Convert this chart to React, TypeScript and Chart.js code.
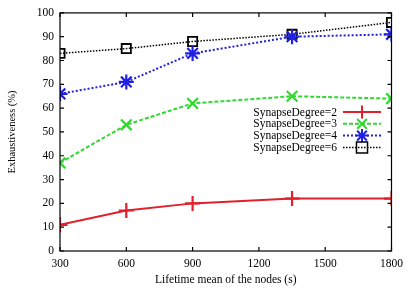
import React, { useEffect, useRef } from "react";
import { Chart, registerables } from "chart.js";

Chart.register(...registerables);

const xValues = [300, 600, 900, 1350, 1800];
const sd2 = [11, 17, 20, 22, 22];
const sd3 = [37, 53, 62, 65, 64];
const sd4 = [66, 71, 83, 90, 91];
const sd6 = [83, 85, 88, 91, 96];
const seriesLabels = ["SynapseDegree=2", "SynapseDegree=3", "SynapseDegree=4", "SynapseDegree=6"];
const xTicks = [300, 600, 900, 1200, 1500, 1800];
const yTicks = [0, 10, 20, 30, 40, 50, 60, 70, 80, 90, 100];

const FONT = "'Liberation Serif', 'DejaVu Serif', serif";

const styles = [
  { color: "#e0202a", dash: [] as number[], point: "cross", width: 2 },
  { color: "#30d830", dash: [4, 2], point: "crossRot", width: 2 },
  { color: "#2020e0", dash: [2, 2], point: "star", width: 2 },
  { color: "#000000", dash: [1.5, 1.5], point: "rect", width: 1.5 },
];

function drawMarker(ctx: CanvasRenderingContext2D, type: string, x: number, y: number, r: number) {
  ctx.beginPath();
  if (type === "cross") {
    ctx.moveTo(x - r, y);
    ctx.lineTo(x + r, y);
    ctx.moveTo(x, y - r);
    ctx.lineTo(x, y + r);
  } else if (type === "crossRot") {
    const d = r * 0.75;
    ctx.moveTo(x - d, y - d);
    ctx.lineTo(x + d, y + d);
    ctx.moveTo(x - d, y + d);
    ctx.lineTo(x + d, y - d);
  } else if (type === "star") {
    const d = r * 0.75;
    ctx.moveTo(x - r, y);
    ctx.lineTo(x + r, y);
    ctx.moveTo(x, y - r);
    ctx.lineTo(x, y + r);
    ctx.moveTo(x - d, y - d);
    ctx.lineTo(x + d, y + d);
    ctx.moveTo(x - d, y + d);
    ctx.lineTo(x + d, y - d);
  } else {
    const h = r * 0.85;
    ctx.rect(x - h, y - h, 2 * h, 2 * h);
  }
  ctx.stroke();
}

const frameTicks = {
  id: "frameTicks",
  afterDatasetsDraw(chart: any) {
    const { ctx, chartArea: a, scales } = chart;
    ctx.save();
    ctx.strokeStyle = "#000";
    ctx.lineWidth = 1.2;
    ctx.setLineDash([]);
    ctx.strokeRect(a.left, a.top, a.right - a.left, a.bottom - a.top);
    const len = 4;
    ctx.beginPath();
    xTicks.forEach((v) => {
      const x = scales.x.getPixelForValue(v);
      ctx.moveTo(x, a.bottom);
      ctx.lineTo(x, a.bottom - len);
      ctx.moveTo(x, a.top);
      ctx.lineTo(x, a.top + len);
    });
    yTicks.forEach((v) => {
      const y = scales.y.getPixelForValue(v);
      ctx.moveTo(a.left, y);
      ctx.lineTo(a.left + len, y);
      ctx.moveTo(a.right, y);
      ctx.lineTo(a.right - len, y);
    });
    ctx.stroke();

    // legend
    const textRight = 337;
    const lineL = 343;
    const lineR = 381;
    const y0 = 112;
    const dy = 11.8;
    ctx.font = `11.5px ${FONT}`;
    ctx.textAlign = "right";
    ctx.textBaseline = "middle";
    seriesLabels.forEach((lab, i) => {
      const y = y0 + i * dy;
      const s = styles[i];
      ctx.fillStyle = "#000";
      ctx.fillText(lab, textRight, y + 0.5);
      ctx.strokeStyle = s.color;
      ctx.lineWidth = s.width;
      ctx.setLineDash(s.dash);
      ctx.beginPath();
      ctx.moveTo(lineL, y);
      ctx.lineTo(lineR, y);
      ctx.stroke();
      ctx.setLineDash([]);
      drawMarker(ctx, s.point, (lineL + lineR) / 2, y, 6.5);
    });
    ctx.restore();
  },
};

export default function App() {
  const ref = useRef<HTMLCanvasElement>(null);
  useEffect(() => {
    document.body.style.margin = "0";
    const all = [sd2, sd3, sd4, sd6];
    const chart = new Chart(ref.current!, {
      type: "line",
      data: {
        datasets: all.map((vals, i) => ({
          label: seriesLabels[i],
          data: vals.map((v, j) => ({ x: xValues[j], y: v })),
          borderColor: styles[i].color,
          backgroundColor: "rgba(0,0,0,0)",
          borderWidth: styles[i].width,
          borderDash: styles[i].dash,
          pointStyle: styles[i].point as any,
          pointRadius: i === 3 ? 6.5 : 7.5,
          pointBorderWidth: i === 3 ? 1.8 : 2.2,
          pointBorderColor: styles[i].color,
          pointBackgroundColor: "rgba(0,0,0,0)",
          tension: 0,
          fill: false,
        })),
      },
      options: {
        animation: false,
        responsive: false,
        layout: { padding: { top: 12, right: 13.5, left: 0, bottom: 0 } },
        plugins: { legend: { display: false }, tooltip: { enabled: false } },
        scales: {
          x: {
            type: "linear",
            min: 300,
            max: 1800,
            afterBuildTicks: (s: any) => {
              s.ticks = xTicks.map((v) => ({ value: v }));
            },
            afterFit: (s: any) => {
              s.height = 40;
            },
            grid: { display: false, drawTicks: false },
            border: { display: false },
            ticks: {
              color: "#000",
              font: { family: FONT, size: 11.5 },
              padding: 6,
              maxRotation: 0,
              autoSkip: false,
              callback: (v: any) => String(v),
            },
            title: {
              display: true,
              text: "Lifetime mean of the nodes (s)",
              color: "#000",
              font: { family: FONT, size: 11.5 },
              padding: { top: 0, bottom: 4 },
            },
          },
          y: {
            min: 0,
            max: 100,
            afterBuildTicks: (s: any) => {
              s.ticks = yTicks.map((v) => ({ value: v }));
            },
            afterFit: (s: any) => {
              s.width = 60;
            },
            grid: { display: false, drawTicks: false },
            border: { display: false },
            ticks: { color: "#000", font: { family: FONT, size: 11.5 }, padding: 6, callback: (v: any) => String(v) },
            title: {
              display: true,
              text: "Exhaustiveness (%)",
              color: "#000",
              font: { family: FONT, size: 10.5 },
              padding: { top: 6, bottom: 0 },
            },
          },
        },
      },
      plugins: [frameTicks],
    });
    return () => chart.destroy();
  }, []);
  return (
    <div style={{ position: "absolute", left: 0, top: 0, width: 409, height: 291, background: "#fff" }}>
      <canvas ref={ref} width={409} height={291} style={{ width: 409, height: 291 }} />
    </div>
  );
}
